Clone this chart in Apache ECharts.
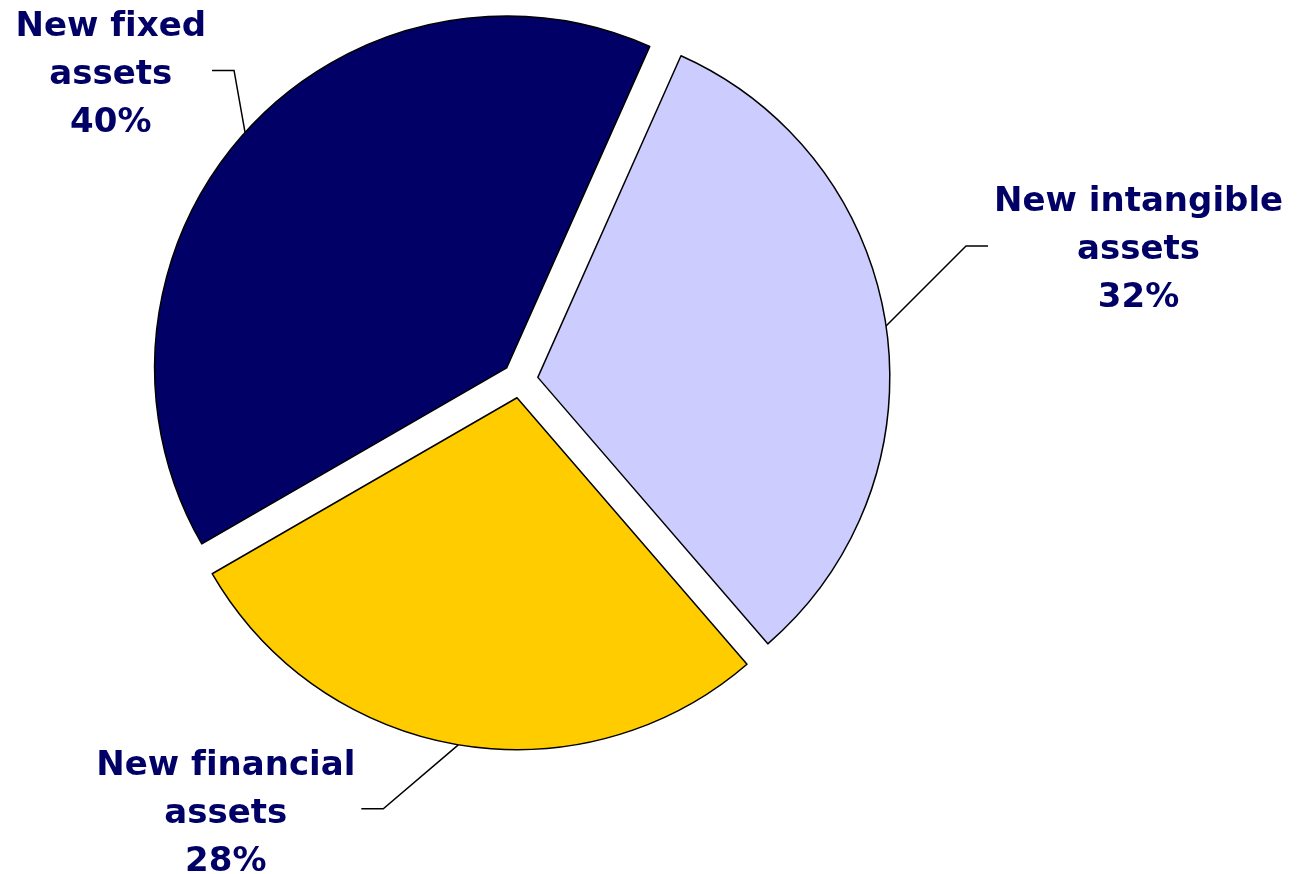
<!DOCTYPE html>
<html>
<head>
<meta charset="utf-8">
<script src="https://cdn.jsdelivr.net/npm/echarts@6/dist/echarts.min.js"></script>
<style>
html,body{margin:0;padding:0;background:#fff;}
#chart{width:1308px;height:874px;}
</style>
</head>
<body>
<div id="chart"></div>
<script>
const categories = ['New intangible assets', 'New financial assets', 'New fixed assets'];
// \u200C keeps "f" and "i" as separate glyphs (no ligature), as in the original
const labelLines = [['New intangible', 'assets'], ['New f\u200Cinancial', 'assets'], ['New f\u200Cixed', 'assets']];
const values = [32, 28, 40];
const colors = ['#CCCCFF', '#FFCC00', '#000066'];
// label guide offsets: [dx, dy of first segment, horizontal second segment, text dy]
const guideOffsets = [[80, -80, 22, 4], [-75, 64, -22, 5], [-11, -62, -22, 5]];

const baseCenter = [520, 380];
const pieRadius = 352;
const explode = 18;
const startAngle = 66; // echarts degrees (ccw from 3 o'clock)

const total = values.reduce((a, b) => a + b, 0);
let cum = 0;
const series = values.map((v, i) => {
  const startCw = (90 - startAngle) + cum / total * 360;
  const midCw = startCw + v / total * 180;
  cum += v;
  const rad = midCw * Math.PI / 180;
  const center = [baseCenter[0] + explode * Math.sin(rad), baseCenter[1] - explode * Math.cos(rad)];
  return {
    type: 'pie',
    center: center,
    radius: pieRadius,
    startAngle: startAngle,
    clockwise: true,
    selectedMode: false,
    emphasis: { disabled: true },
    label: {
      show: true,
      position: 'outside',
      color: '#000066',
      fontFamily: 'DejaVu Sans',
      fontWeight: 'bold',
      fontSize: 34,
      lineHeight: 48,
      align: 'center',
      overflow: 'none',
      formatter: p => labelLines[p.dataIndex].join('\n') + '\n' + p.value + '%'
    },
    labelLine: {
      show: true,
      length: 40,
      length2: 20,
      lineStyle: { color: '#000', width: 1.5 }
    },
    labelLayout: function (params) {
      if (!params.labelLinePoints) return {};
      const p0 = params.labelLinePoints[0];
      const o = guideOffsets[params.dataIndex];
      const p1 = [p0[0] + o[0], p0[1] + o[1]];
      const p2 = [p1[0] + o[2], p1[1]];
      const w = params.labelRect.width;
      const sign = o[2] > 0 ? 1 : -1;
      return {
        x: p2[0] + sign * (6 + w / 2),
        y: p2[1] + o[3],
        align: 'center',
        verticalAlign: 'middle',
        labelLinePoints: [p0, p1, p2]
      };
    },
    data: categories.map((c, j) => {
      const visible = j === i;
      return {
        name: c,
        value: values[j],
        itemStyle: visible
          ? { color: colors[j], borderColor: '#000', borderWidth: 1.5 }
          : { color: 'rgba(0,0,0,0)', borderWidth: 0 },
        label: { show: visible },
        labelLine: { show: visible },
        tooltip: { show: false }
      };
    })
  };
});

const chart = echarts.init(document.getElementById('chart'));
chart.setOption({
  animation: false,
  series: series
});
</script>
</body>
</html>
